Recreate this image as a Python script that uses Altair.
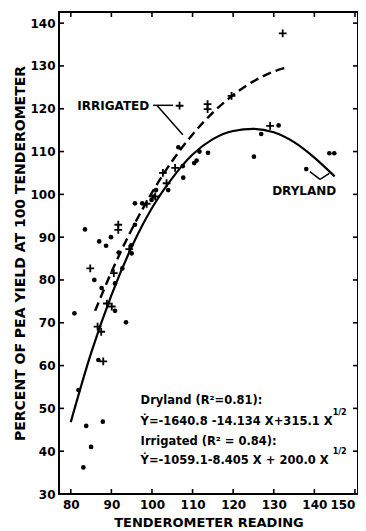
import altair as alt
import pandas as pd

# ---- data ----
dry_x = [83.1, 85.0, 83.8, 87.9, 81.9, 86.8, 93.6, 80.9, 90.9, 87.6, 90.9, 85.8, 92.7,
         91.8, 95.0, 94.9, 88.7, 87.0, 89.9, 83.5, 95.8, 95.8, 97.6, 99.9, 100.4, 101.0,
         104.0, 107.7, 107.6, 106.5, 110.4, 111.0, 111.7, 113.8, 125.1, 126.9, 131.2,
         138.0, 143.7, 144.9]
dry_y = [36.2, 41.0, 45.9, 46.9, 54.3, 61.3, 70.1, 72.2, 72.8, 78.1, 79.2, 80.0, 82.7,
         86.4, 86.2, 88.1, 88.0, 89.0, 90.0, 91.8, 92.9, 97.9, 97.9, 98.7, 99.5, 101.0,
         101.0, 103.9, 106.6, 111.0, 107.3, 107.9, 110.0, 109.7, 108.8, 114.1, 116.1,
         105.9, 109.6, 109.6]

irr_x = [86.6, 87.5, 88.0, 88.9, 90.1, 90.6, 84.8, 91.7, 91.7, 94.4, 98.7, 100.8,
         102.7, 103.6, 105.7, 106.8, 113.7, 113.7, 119.6, 129.1, 132.2]
irr_y = [69.1, 67.9, 61.0, 74.5, 73.8, 81.6, 82.7, 92.9, 91.7, 87.2, 97.8, 99.5,
         105.0, 102.6, 106.2, 120.7, 121.1, 119.9, 123.0, 116.0, 137.6]

# fitted curves
dry_curve_x = [80, 85, 90, 95, 100, 105, 110, 115, 120, 125, 130, 135, 140, 145]
dry_curve_y = [46.8, 62.9, 76.4, 87.7, 96.8, 103.8, 109.3, 112.9, 114.8, 115.3, 114.5,
               112.2, 108.6, 104.2]
irr_curve_x = [86, 90, 95, 100, 105, 110, 115, 120, 125, 130, 133.5]
irr_curve_y = [72.8, 81.8, 91.8, 100.4, 107.8, 114.0, 119.1, 123.2, 126.4, 128.7, 129.7]

x_ticks = [80, 90, 100, 110, 120, 130, 140, 150]
y_ticks = [30, 40, 50, 60, 70, 80, 90, 100, 110, 120, 130, 140]

# annotation texts (positions in data units)
lbl_text = ["IRRIGATED", "DRYLAND"]
lbl_x = [81.6, 129.6]
lbl_y = [120.7, 100.8]
eq_text = ["Dryland (R\u00b2=0.81):",
           "\u1e8e=-1640.8 -14.134 X+315.1 X",
           "Irrigated (R\u00b2 = 0.84):",
           "\u1e8e=-1059.1-8.405 X + 200.0 X"]
eq_x = [97.2, 97.2, 97.2, 97.2]
eq_y = [51.8, 46.9, 42.2, 37.8]
sup_text = ["1/2", "1/2"]
sup_x = [144.5, 144.5]
sup_y = [49.0, 39.8]

# leader lines (segments in data units)
lead_x = [100.3, 101.3, 138.9, 141.4]
lead_y = [120.8, 120.7, 105.3, 103.5]
lead_x2 = [105.2, 107.6, 141.4, 143.7]
lead_y2 = [120.8, 113.9, 103.5, 104.9]

W, H = 299, 482
FONT = "DejaVu Sans"
xs = alt.Scale(domain=[77.1, 150.75], nice=False, zero=False)
ys = alt.Scale(domain=[30, 142.6], nice=False, zero=False)

dry = pd.DataFrame({"x": dry_x, "y": dry_y})
irr = pd.DataFrame({"x": irr_x, "y": irr_y})
dcur = pd.DataFrame({"x": dry_curve_x, "y": dry_curve_y})
icur = pd.DataFrame({"x": irr_curve_x, "y": irr_curve_y})
lbl = pd.DataFrame({"x": lbl_x, "y": lbl_y, "t": lbl_text})
eq = pd.DataFrame({"x": eq_x, "y": eq_y, "t": eq_text})
sup = pd.DataFrame({"x": sup_x, "y": sup_y, "t": sup_text})
lead = pd.DataFrame({"x": lead_x, "y": lead_y, "x2": lead_x2, "y2": lead_y2})
xt = pd.DataFrame({"v": x_ticks})
yt = pd.DataFrame({"v": y_ticks})

base_x = alt.X("x:Q", scale=xs, title="TENDEROMETER READING",
               axis=alt.Axis(values=x_ticks, tickSize=0, labelPadding=5, domain=False,
                             grid=False, titlePadding=6, labelFlush=6, titleFontSize=13))
base_y = alt.Y("y:Q", scale=ys, title="PERCENT OF PEA YIELD AT 100 TENDEROMETER",
               axis=alt.Axis(values=y_ticks, tickSize=0, labelPadding=4, domain=False,
                             grid=False, titlePadding=2, titleFontSize=14))

dots = alt.Chart(dry).mark_circle(color="black", size=22, opacity=1).encode(x=base_x, y=base_y)
plus = alt.Chart(irr).mark_point(shape="M-1,0L1,0M0,-1L0,1", filled=False, color="black",
                                 strokeWidth=1.8, size=60, opacity=1).encode(x="x:Q", y="y:Q")
dline = alt.Chart(dcur).mark_line(color="black", strokeWidth=2.2, interpolate="monotone").encode(
    x="x:Q", y="y:Q")
iline = alt.Chart(icur).mark_line(color="black", strokeWidth=2.4, strokeDash=[9, 5],
                                  interpolate="monotone").encode(x="x:Q", y="y:Q")
leads = alt.Chart(lead).mark_rule(color="black", strokeWidth=1.5).encode(
    x="x:Q", y="y:Q", x2="x2:Q", y2="y2:Q")
lbls = alt.Chart(lbl).mark_text(font=FONT, fontWeight="bold", color="black", fontSize=12,
                                align="left", baseline="middle").encode(
    x="x:Q", y="y:Q", text="t:N")
eqs = alt.Chart(eq).mark_text(font=FONT, fontWeight="bold", color="black", fontSize=11.5,
                              align="left", baseline="middle").encode(
    x="x:Q", y="y:Q", text="t:N")
sups = alt.Chart(sup).mark_text(font=FONT, fontWeight="bold", color="black", fontSize=8,
                                align="left", baseline="middle").encode(x="x:Q", y="y:Q", text="t:N")

tb = alt.Chart(xt).mark_rule(color="black", strokeWidth=1.6).encode(
    x="v:Q", y=alt.value(H), y2=alt.value(H - 5))
tt = alt.Chart(xt).mark_rule(color="black", strokeWidth=1.6).encode(
    x="v:Q", y=alt.value(0), y2=alt.value(5))
tl = alt.Chart(yt).mark_rule(color="black", strokeWidth=1.6).encode(
    y="v:Q", x=alt.value(0), x2=alt.value(5))
tr = alt.Chart(yt).mark_rule(color="black", strokeWidth=1.6).encode(
    y="v:Q", x=alt.value(W), x2=alt.value(W - 5))

chart = alt.layer(dots, plus, dline, iline, leads, lbls, eqs, sups, tb, tt, tl, tr).properties(
    width=W, height=H,
    autosize=alt.AutoSizeParams(type="none"),
    padding={"left": 51, "top": 4, "right": 0, "bottom": 37},
    background="white",
).configure_view(stroke="black", strokeWidth=2).configure_axis(
    labelFont=FONT, labelFontWeight="bold", labelFontSize=12, labelColor="black",
    titleFont=FONT, titleFontWeight="bold", titleColor="black",
)

chart.save("out.html", embed_options={"renderer": "svg", "actions": False})
